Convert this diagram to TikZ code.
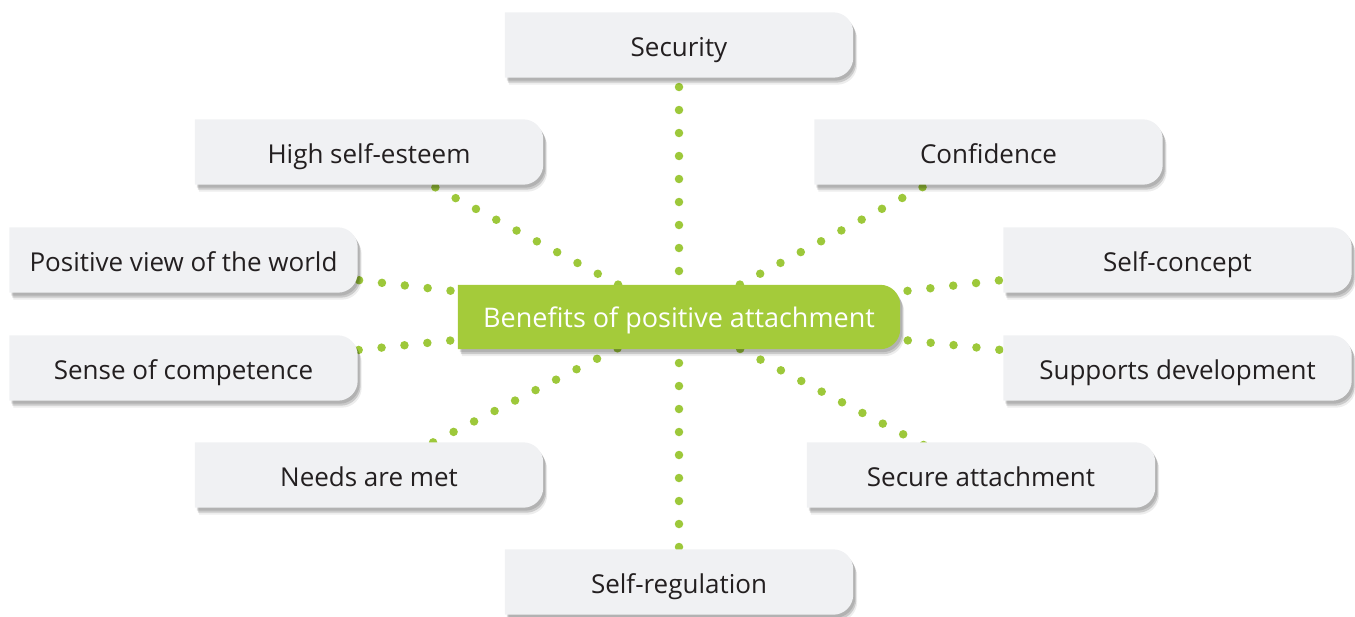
\documentclass[tikz,border=0pt]{standalone}
\usepackage{fontspec}
\setmainfont{Open Sans}
\definecolor{boxfill}{HTML}{F0F1F3}
\definecolor{greenbox}{HTML}{A4CB3A}
\definecolor{dotgreen}{HTML}{9DC83A}
\definecolor{txtc}{HTML}{231F20}
\pgfdeclarelayer{dotlayer}
\pgfdeclarelayer{boxlayer}
\pgfsetlayers{dotlayer,boxlayer,main}
\tikzset{
  lbl/.style={minimum width=348pt, minimum height=65pt, inner sep=0pt, text=txtc,
    font=\fontsize{26}{30}\selectfont, text height=22pt, text depth=0pt},
  centrelbl/.style={lbl, minimum width=442pt, minimum height=64pt, text=white,
    font=\fontsize{27}{31}\selectfont, text height=21pt},
  dotline/.style={draw=dotgreen, line width=8.5pt, line cap=round, dash pattern=on 0pt off 23pt},
}
\newcommand\shapepath[1]{(#1.south west) -- (#1.north west) -- ([xshift=-20pt]#1.north east) arc[start angle=90,end angle=0,radius=20pt] -- ([yshift=20pt]#1.south east) arc[start angle=0,end angle=-90,radius=20pt] -- cycle}
\newcommand\shapedbox[2]{%
  \fill[black, opacity=0.12, transform canvas={shift={(2pt,-3pt)}}] \shapepath{#1};
  \fill[black, opacity=0.15, transform canvas={shift={(3pt,-5pt)}}] \shapepath{#1};
  \fill[black, opacity=0.07, transform canvas={shift={(4pt,-7pt)}}] \shapepath{#1};
  \fill[#2] \shapepath{#1};}
\begin{document}
\begin{tikzpicture}[x=1pt, y=-1pt]
\useasboundingbox (0,0) rectangle (1355,616);
\node[centrelbl] (c) at (679,317) {Benefits of positive attachment};
\node[lbl] (sec) at (679,45) {Security};
\node[lbl] (hse) at (369,152) {High self-esteem};
\node[lbl] (conf) at (988.5,152) {Confidence};
\node[lbl] (pvw) at (183.5,260) {Positive view of the world};
\node[lbl] (sc) at (1177.5,260) {Self-concept};
\node[lbl] (soc) at (183.5,368) {Sense of competence};
\node[lbl] (sd) at (1177.5,368) {Supports development};
\node[lbl] (nam) at (369,475) {Needs are met};
\node[lbl] (sa) at (981,475) {Secure attachment};
\node[lbl] (sr) at (679,582) {Self-regulation};
\begin{pgfonlayer}{dotlayer}
  \foreach \n in {sec,hse,conf,pvw,sc,soc,sd,nam,sa,sr}{
    \draw[dotline] (c.center) -- (\n.center);}
\end{pgfonlayer}
\begin{pgfonlayer}{boxlayer}
  \foreach \n in {sec,hse,conf,pvw,sc,soc,sd,nam,sa,sr}{
    \shapedbox{\n}{boxfill}}
  \shapedbox{c}{greenbox}
\end{pgfonlayer}
\end{tikzpicture}
\end{document}
